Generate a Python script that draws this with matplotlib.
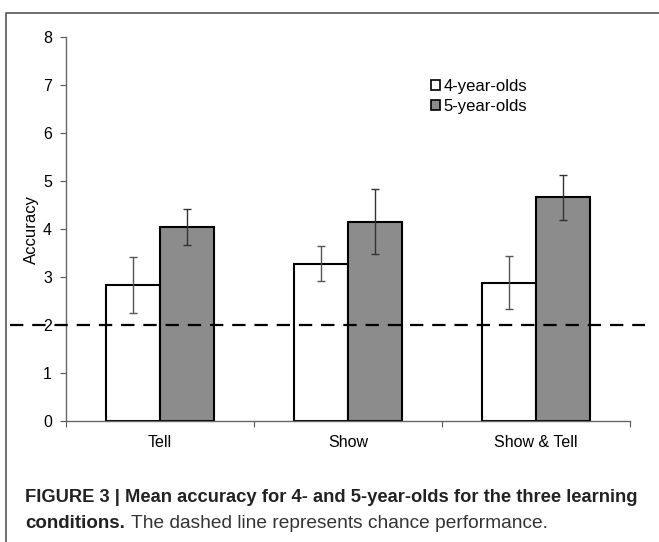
import matplotlib
matplotlib.use("Agg")
import matplotlib.pyplot as plt
from matplotlib.lines import Line2D
from matplotlib.patches import Patch
import numpy as np

conditions = ["Tell", "Show", "Show & Tell"]
acc_4yo = [2.83, 3.28, 2.88]
err_4yo = [0.59, 0.37, 0.55]
acc_5yo = [4.04, 4.15, 4.66]
err_5yo = [0.38, 0.68, 0.47]
chance = 2.0

plt.rcParams['font.family'] = ['Liberation Sans', 'DejaVu Sans']

fig = plt.figure(figsize=(6.59, 5.42), dpi=100)
ax = fig.add_axes([66/659, 1 - 421/542, (630 - 66)/659, (421 - 37)/542])

x = np.arange(len(conditions)) + 0.5
w = 0.287
ax.bar(x - w/2, acc_4yo, w, color="white", edgecolor="black", linewidth=1.5,
       yerr=err_4yo, error_kw=dict(ecolor="#555555", elinewidth=1, capsize=3, capthick=1),
       zorder=2)
ax.bar(x + w/2, acc_5yo, w, color="#8c8c8c", edgecolor="black", linewidth=1.5,
       yerr=err_5yo, error_kw=dict(ecolor="#333333", elinewidth=1, capsize=3, capthick=1),
       zorder=2)

# chance line runs past the axes on both sides
ax.plot([-0.30, 3.08], [chance, chance], color="black", linestyle=(0, (6, 4)),
        linewidth=1.6, clip_on=False, zorder=3)

ax.set_xlim(0, 3)
ax.set_ylim(0, 8)
ax.set_yticks(range(0, 9))
ax.set_xticks([0, 1, 2, 3])
ax.set_xticklabels([])
ax.set_xticks(x, minor=True)
ax.set_xticklabels(conditions, minor=True)
ax.tick_params(axis="x", which="minor", length=0, pad=10, labelsize=11.5)
ax.tick_params(axis="x", which="major", length=4, direction="out", color="#555555")
ax.tick_params(axis="y", length=4, direction="out", color="#555555", labelsize=11.5, pad=6)
for s in ["top", "right"]:
    ax.spines[s].set_visible(False)
for s in ["left", "bottom"]:
    ax.spines[s].set_color("#666666")
    ax.spines[s].set_linewidth(1)
ax.set_ylabel("Accuracy", fontsize=12, labelpad=3)

handles = [Patch(facecolor="white", edgecolor="black", linewidth=1.2),
           Patch(facecolor="#8c8c8c", edgecolor="black", linewidth=1.2)]
ax.legend(handles, ["4-year-olds", "5-year-olds"], loc="upper left",
          bbox_to_anchor=(0.62, 0.93), frameon=False, fontsize=12,
          handlelength=0.55, handleheight=0.55, handletextpad=0.2, labelspacing=0.3)

# figure frame (left and top edges)
fig.add_artist(Line2D([6/659, 6/659, 1], [0, 1 - 13/542, 1 - 13/542],
                      color="#555555", linewidth=1.2, transform=fig.transFigure))

fig.text(25/659, 1 - 497/542, "FIGURE 3 | Mean accuracy for 4- and 5-year-olds for the three learning",
         fontsize=13.2, fontweight="bold", va="center", ha="left", color="#222222")
bold = fig.text(25/659, 1 - 524/542, "conditions.", fontsize=13.5, fontweight="bold",
                va="center", ha="left", color="#222222")
renderer = fig.canvas.get_renderer()
x_end = bold.get_window_extent(renderer).x1
fig.text((x_end + 6)/659, 1 - 524/542, "The dashed line represents chance performance.",
         fontsize=13.8, va="center", ha="left", color="#333333")

fig.savefig("out.png", dpi=100)
